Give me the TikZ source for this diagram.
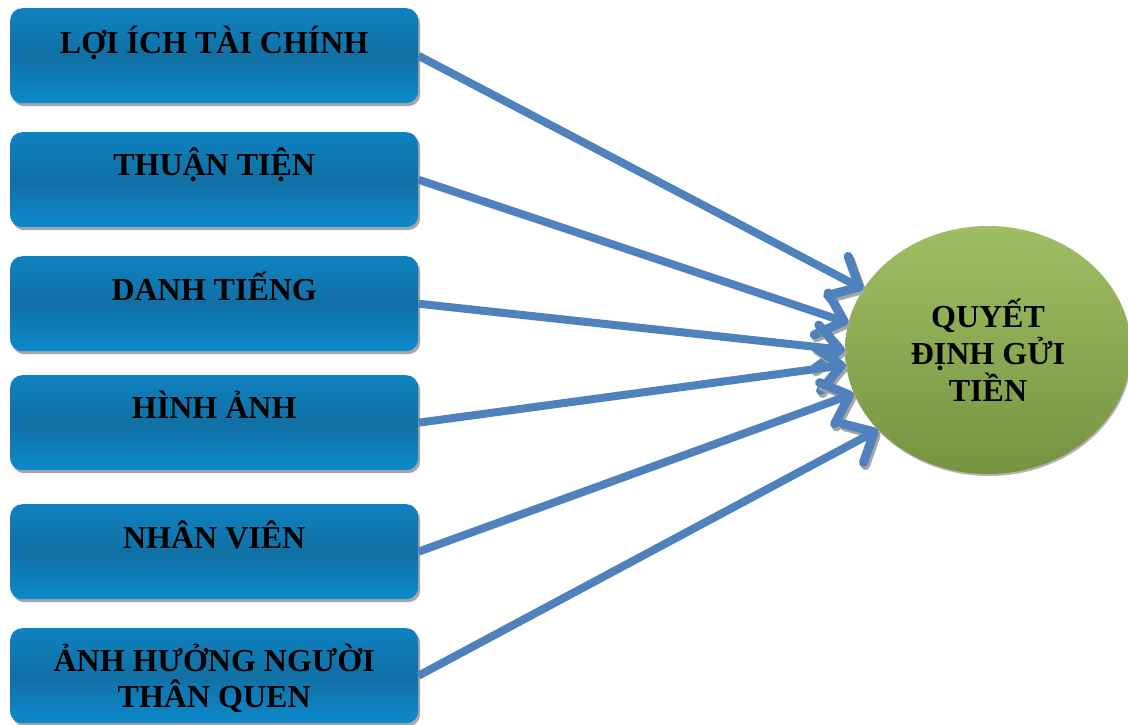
\documentclass[tikz,border=0pt]{standalone}
\usepackage{fontspec}
\setmainfont{Liberation Serif}
\usetikzlibrary{positioning, arrows.meta, shapes.geometric, shadows}

\definecolor{boxtop}{RGB}{14,130,192}
\definecolor{boxmid}{RGB}{17,112,164}
\definecolor{boxbot}{RGB}{12,138,204}
\definecolor{goaltop}{RGB}{160,190,100}
\definecolor{goalbot}{RGB}{118,148,64}
\definecolor{flowblue}{RGB}{79,129,189}

\begin{document}
\begin{tikzpicture}[x=1pt, y=-1pt, >={Straight Barb[length=24pt, width=44pt, line width=9pt, round]},
    factor/.style={rounded corners=12pt, minimum width=408pt, minimum height=95pt, inner sep=0pt, anchor=north west,
      top color=boxtop, bottom color=boxbot, middle color=boxmid,
      drop shadow={shadow xshift=2pt, shadow yshift=-3pt, fill=black!35, opacity=1}},
    factortext/.style={font=\bfseries\fontsize{32}{36}\selectfont, align=center, anchor=base, inner sep=0pt},
    goal/.style={ellipse, minimum width=286pt, minimum height=248pt, inner sep=0pt,
      top color=goaltop, bottom color=goalbot, font=\bfseries\fontsize{32}{37}\selectfont, align=center,
      drop shadow={shadow xshift=1pt, shadow yshift=-2pt, fill=black!30, opacity=1}},
    flow/.style={->, line width=8pt, draw=flowblue,
      preaction={draw=black!35, transform canvas={shift={(2pt,-3pt)}}}}]
        \useasboundingbox (0,0) rectangle (1128,724);

        \node[factor] (loiich) at (10,8) {};
        \node[factor] (thuantien) at (10,132) {};
        \node[factor] (danhtieng) at (10,256) {};
        \node[factor] (hinhanh) at (10,375) {};
        \node[factor] (nhanvien) at (10,504) {};
        \node[factor] (nguoithan) at (10,628) {};

        \node[factortext] at ([yshift=-45pt]loiich.north) {LỢI ÍCH TÀI CHÍNH};
        \node[factortext] at ([yshift=-43pt]thuantien.north) {THUẬN TIỆN};
        \node[factortext] at ([yshift=-44pt]danhtieng.north) {DANH TIẾNG};
        \node[factortext] at ([yshift=-43pt]hinhanh.north) {HÌNH ẢNH};
        \node[factortext] at ([yshift=-44pt]nhanvien.north) {NHÂN VIÊN};
        \node[factortext] at ([yshift=-79pt]nguoithan.north) {ẢNH HƯỞNG NGƯỜI\\THÂN QUEN};

        \node[goal] (quyetdinh) at (988,350) {QUYẾT\\ĐỊNH GỬI\\TIỀN};

        \draw[flow] (loiich.east) -- (quyetdinh.154);
        \draw[flow] (thuantien.east) -- (quyetdinh.169);
        \draw[flow] (danhtieng.east) -- (quyetdinh.180);
        \draw[flow] (hinhanh.east) -- (quyetdinh.186);
        \draw[flow] (nhanvien.east) -- (quyetdinh.198);
        \draw[flow] (nguoithan.east) -- (quyetdinh.216);
      \end{tikzpicture}
\end{document}
